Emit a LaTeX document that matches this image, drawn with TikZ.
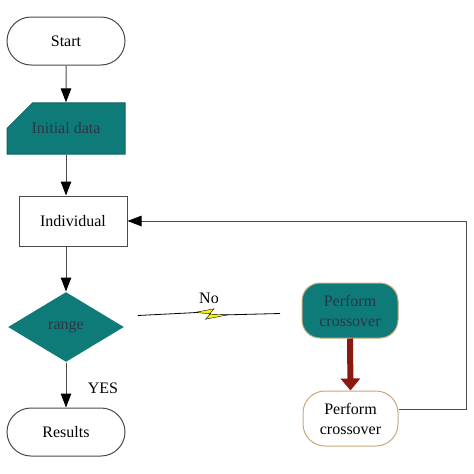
\documentclass[tikz,border=0pt]{standalone}
\usepackage{fontspec}
\setmainfont{Liberation Serif}
\usetikzlibrary{shapes.geometric,shapes.misc,arrows.meta}
\definecolor{tealbox}{HTML}{0F7B79}
\definecolor{tanline}{HTML}{C9A77A}
\definecolor{darkred}{HTML}{8A1A10}
\definecolor{boxtext}{HTML}{2C3644}
\definecolor{linegray}{HTML}{4A4A4A}
\tikzset{
  terminal/.style={draw=linegray, rounded corners=24pt, minimum width=118pt, minimum height=48pt},
  datain/.style={chamfered rectangle, chamfered rectangle corners=north west,
    chamfered rectangle xsep=26pt, chamfered rectangle ysep=20pt,
    fill=tealbox, draw=tealbox!80!black, text=boxtext, minimum width=118pt, minimum height=43pt, inner sep=0pt},
  procbox/.style={draw=linegray, minimum width=108pt, minimum height=50pt},
  decide/.style={diamond, fill=tealbox, text=boxtext, minimum width=116pt, minimum height=70pt, inner sep=0pt},
  crossteal/.style={fill=tealbox, draw=tanline, text=boxtext, rounded corners=18pt, align=center,
    minimum width=96pt, minimum height=55pt},
  crosswhite/.style={draw=tanline, rounded corners=22pt, align=center, minimum width=95pt, minimum height=55pt},
  flow/.style={draw=linegray, -{Triangle[length=14pt,width=10.5pt,black]}},
}
\begin{document}
\begin{tikzpicture}[x=1pt,y=-1pt,font=\fontsize{16}{20}\selectfont, line width=1pt]
\useasboundingbox (0,0) rectangle (474,474);
% left column
\node[terminal] (start) at (66,41) {Start};
\node[datain] (data) at (66,128.5) {Initial data};
\node[procbox] (indiv) at (73,221) {Individual};
\node[decide] (range) at (66,327) {range};
\node[terminal] (res) at (66,432) {Results};
% right column
\node[crossteal] (crossA) at (350,310.5) {Perform\\crossover};
\node[crosswhite] (crossB) at (350.5,418.5) {Perform\\crossover};

\draw[flow] (start) -- (data);
\draw[flow] (data.south) -- (data.south |- indiv.north);
\draw[flow] (indiv.south -| data.south) -- (range.north);
\draw[flow] (range.south) -- (res.north);
\node at (103,388) {YES};

% lightning connector
\coordinate (noL) at (138,315.5);
\coordinate (noR) at (280,313.5);
\draw[line width=0.8pt] (noL) -- (201,312.3);
\draw[line width=0.8pt] (221,315) -- (noR);
\filldraw[fill=yellow, draw=black, line width=0.4pt]
  (195,312.4) -- (214,308.8) -- (209.5,314.2) -- (228,314.8) -- (205.5,319.2) -- (210.5,313.8) -- cycle;
\node at (209,298) {No};

\draw[darkred, line width=6pt, -{Triangle[length=12pt,width=19pt]}] (crossA.south) -- (crossB.north);
\draw[flow] ([yshift=9pt]crossB.east) -- (466,409.5) |- (indiv.east);
\end{tikzpicture}
\end{document}
